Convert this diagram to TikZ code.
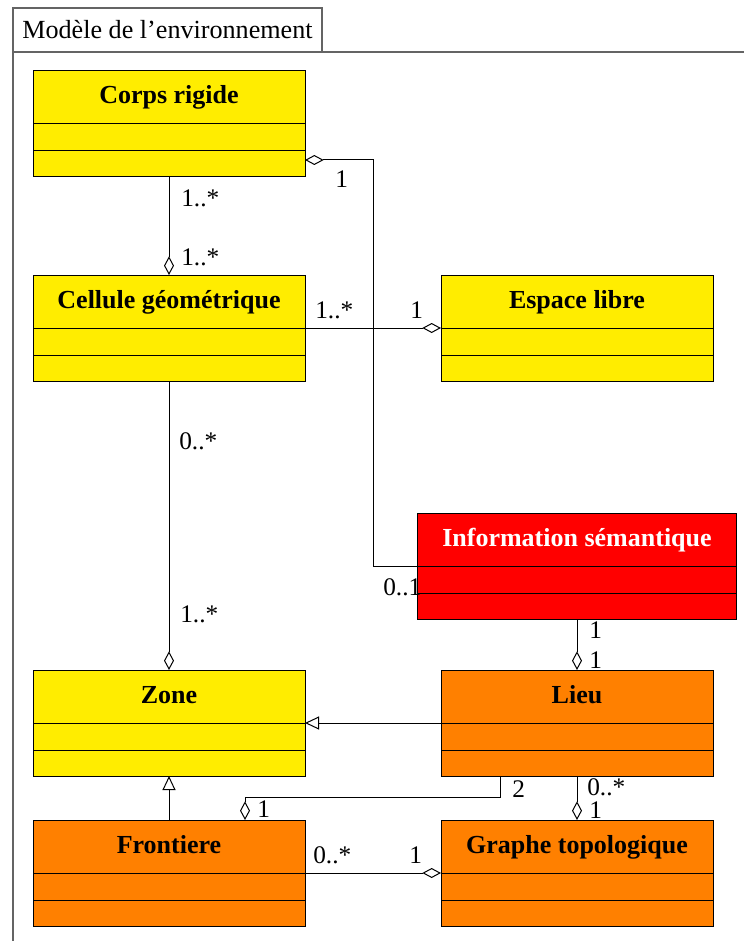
\documentclass[tikz,border=0pt]{standalone}
\usepackage{fontspec}
\setmainfont{Liberation Serif}
\usetikzlibrary{arrows.meta}
\definecolor{jaune}{RGB}{255,237,0}
\definecolor{orangec}{RGB}{255,128,0}
\definecolor{rouge}{RGB}{255,0,0}
\definecolor{griscadre}{RGB}{100,100,100}
\tikzset{
  classe/.style={draw=black, line width=0.75pt, minimum width=204pt, minimum height=79.5pt,
    inner sep=0pt, outer sep=0pt,
    path picture={
      \draw[line width=0.75pt] (path picture bounding box.west) -- (path picture bounding box.east);
      \draw[line width=0.75pt] ([yshift=-20.25pt]path picture bounding box.west) -- ([yshift=-20.25pt]path picture bounding box.east);
    }},
  titre/.style={anchor=base, yshift=-24.75pt, inner sep=0pt, font=\fontsize{19.5}{22}\selectfont\bfseries},
  mult/.style={anchor=base west, inner sep=0pt, font=\fontsize{19}{22}\selectfont},
  agreg/.style={line width=0.75pt, -{Diamond[open, length=14pt, width=7.5pt]}},
  herit/.style={line width=0.75pt, -{Triangle[open, length=10.5pt, width=9.75pt]}},
  cadre/.style={draw=griscadre, line width=1.2pt}
}
\begin{document}
\begin{tikzpicture}[x=0.75pt, y=-0.75pt]
\useasboundingbox (0,0) rectangle (744,941);
\fill[white] (0,0) rectangle (744,941);
% cadre du paquetage
\node[cadre, minimum width=231.75pt, minimum height=33pt, inner sep=0pt, outer sep=0pt,
  font=\fontsize{19.6}{22}\selectfont] (onglet) at (167.5,30) {Mod\`ele de l'environnement};
\draw[cadre] (onglet.south west) -- (13,941);
\draw[cadre] (onglet.south east) -- (744,52);
% classes
\node[classe, fill=jaune, label={[titre]north:Corps rigide}] (corps) at (169,124) {};
\node[classe, fill=jaune, label={[titre]north:Cellule g\'eom\'etrique}] (cellule) at (169,328) {};
\node[classe, fill=jaune, label={[titre]north:Espace libre}] (espace) at (577,328) {};
\node[classe, fill=rouge, minimum width=239.25pt, label={[titre, text=white]north:Information s\'emantique}] (info) at (577,566) {};
\node[classe, fill=jaune, label={[titre]north:Zone}] (zone) at (169,723) {};
\node[classe, fill=orangec, label={[titre]north:Lieu}] (lieu) at (577,723) {};
\node[classe, fill=orangec, label={[titre]north:Frontiere}] (frontiere) at (169,873) {};
\node[classe, fill=orangec, label={[titre]north:Graphe topologique}] (graphe) at (577,873) {};
% associations
\coordinate (coude) at (373,160);
\draw[agreg] (corps.south) -- (cellule.north);
\draw[agreg] (info.west) -| (coude) -- ([yshift=-27pt]corps.east);
\draw[agreg] (cellule.east) -- (espace.west);
\draw[agreg] (cellule.south) -- (zone.north);
\draw[agreg] (info.south) -- (lieu.north);
\draw[herit] (lieu.west) -- (zone.east);
\draw[herit] (frontiere.north) -- (zone.south);
\draw[agreg] ([xshift=-57.75pt]lieu.south) -- ++(0,21) -| ([xshift=57pt]frontiere.north);
\draw[agreg] (lieu.south) -- (graphe.north);
\draw[agreg] (frontiere.east) -- (graphe.west);
% multiplicites
\node[mult] (m1) at (181,207) {1..*};
\node[mult] (m2) at (181,265) {1..*};
\node[mult] (m3) at (335,188) {1};
\node[mult] (m4) at (383,595) {0..1};
\node[mult] (m5) at (315,318) {1..*};
\node[mult] (m6) at (410,318) {1};
\node[mult] (m7) at (179,449) {0..*};
\node[mult] (m8) at (180,622) {1..*};
\node[mult] (m9) at (589,638) {1};
\node[mult] (m10) at (589,668) {1};
\node[mult] (m11) at (512,797) {2};
\node[mult] (m12) at (257,817) {1};
\node[mult] (m13) at (587,795) {0..*};
\node[mult] (m14) at (589,818) {1};
\node[mult] (m15) at (313,863) {0..*};
\node[mult] (m16) at (409,863) {1};
\end{tikzpicture}
\end{document}
